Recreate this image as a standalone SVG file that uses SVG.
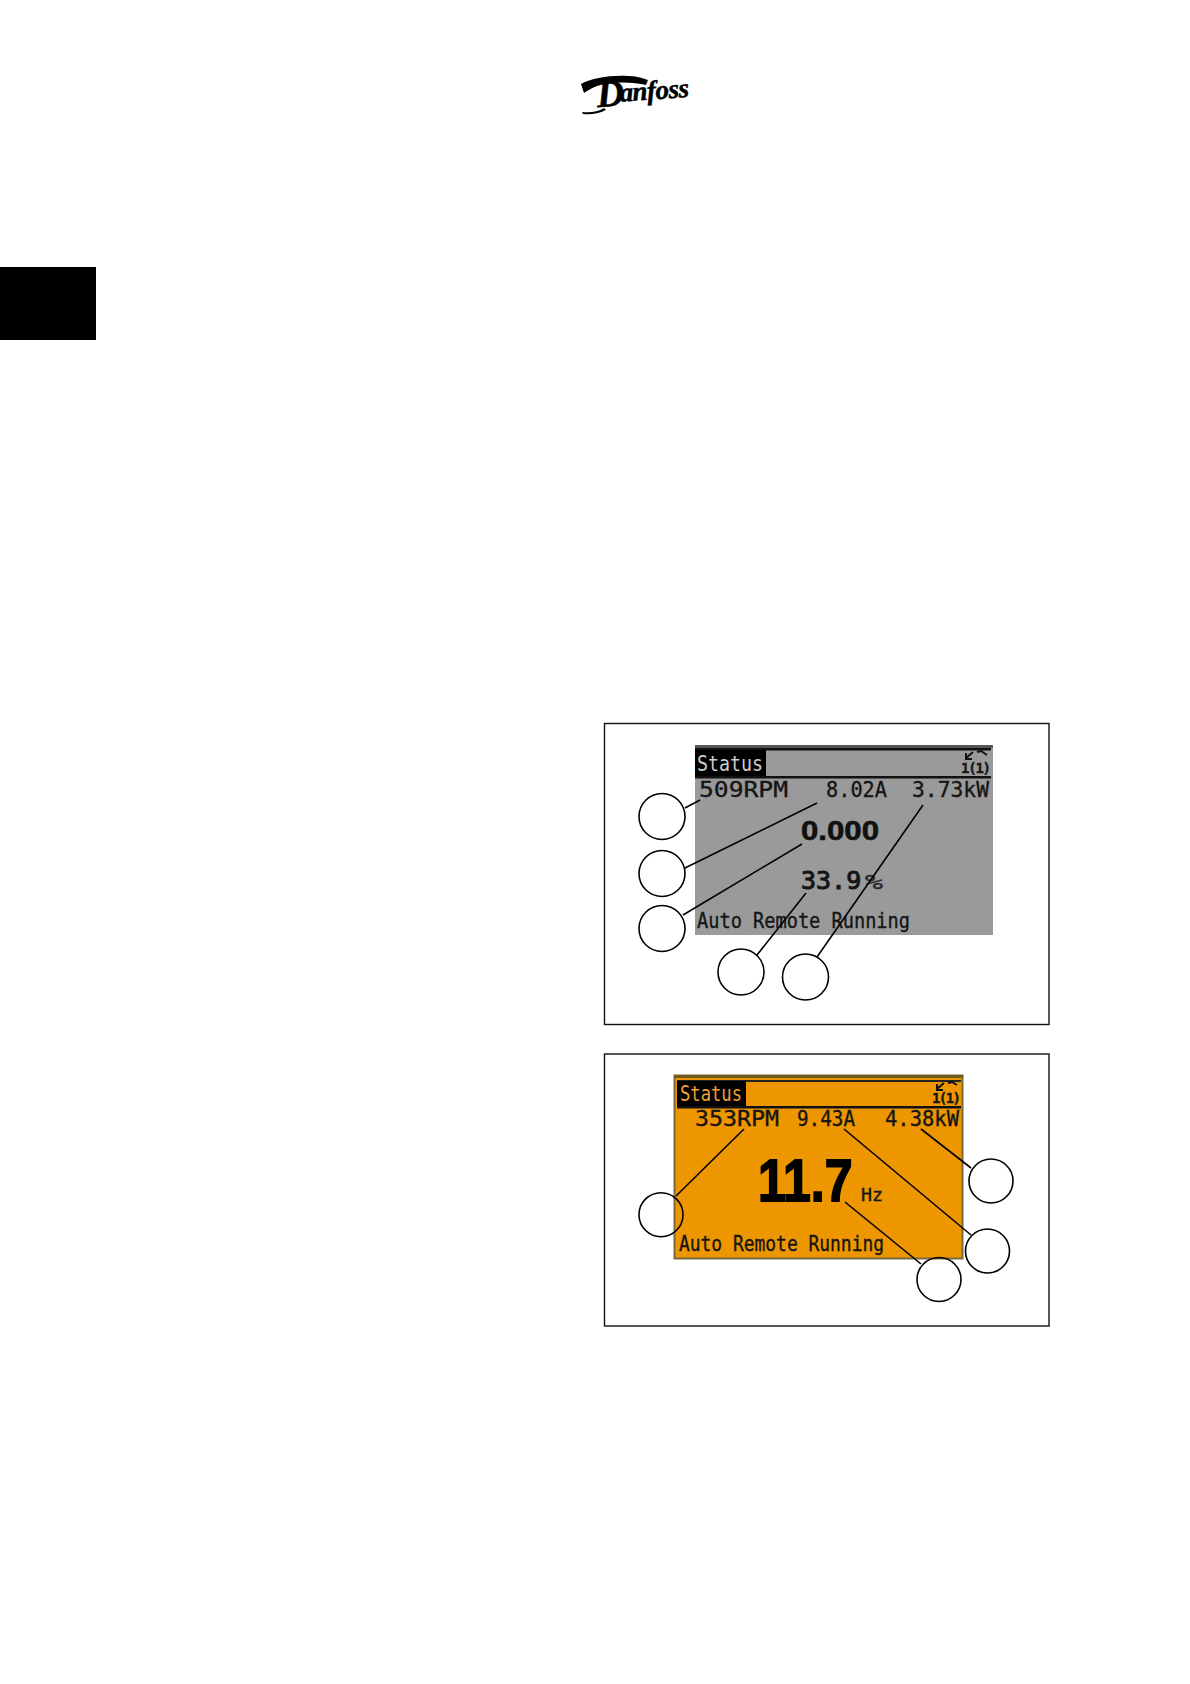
<svg xmlns="http://www.w3.org/2000/svg" width="1190" height="1684" viewBox="0 0 1190 1684">
<style>
.frame{fill:#fff;stroke:#111;stroke-width:1.4}
.callout{fill:none;stroke:#000;stroke-width:1.6}
.c{fill:none;stroke:#000;stroke-width:1.6}
.lcd{font-family:"DejaVu Sans Mono",monospace;fill:#151515;font-size:21px;stroke:#151515;stroke-width:.35}
.big{font-family:"Liberation Sans",sans-serif;font-weight:bold;fill:#111}
</style>
<rect width="1190" height="1684" fill="#fff"/>
<rect id="tab" x="0" y="267" width="96" height="73" fill="#000"/>
<g id="logo">
<path d="M581 84C592 78 610 75 628 76C636 76 642 78 648 80L646 85C634 82 612 81 597 86C592 88 588 90 584 93Z" fill="#000"/>
<path d="M582 112C590 113 598 112 604 108L606 110C598 114 590 115 583 114Z" fill="#000"/>
<text transform="rotate(-4 616 100)" y="102" font-family="'Liberation Serif',serif" font-style="italic" font-weight="bold" font-size="27" fill="#000" stroke="#000" stroke-width=".5"><tspan x="597" y="106" font-size="38">D</tspan><tspan x="620" y="102" letter-spacing="-.5">anfoss</tspan></text>
</g>
<g id="panel-grey">
<rect class="frame" x="604.5" y="723.5" width="444.5" height="301"/>
<rect x="695" y="745" width="298" height="190" fill="#9a9a9a"/>
<rect x="695" y="745" width="298" height="3" fill="#555"/>
<rect x="695" y="748" width="296" height="2.5" fill="#111"/>
<rect x="695" y="750" width="71" height="27" fill="#000"/>
<rect x="695" y="776" width="296" height="2.5" fill="#111"/>
<text x="697" y="771" class="lcd" style="fill:#ccc;stroke:none" textLength="66" lengthAdjust="spacingAndGlyphs">Status</text>
<path d="M966 758L973 752M966 753V759H972M977 752L981 751L987 755" fill="none" stroke="#111" stroke-width="2"/>
<text x="961" y="773" class="lcd" style="font-size:14px;font-weight:bold" textLength="30" lengthAdjust="spacing">1(1)</text>
<text x="699" y="797" class="lcd" textLength="89" lengthAdjust="spacingAndGlyphs">509RPM</text>
<text x="826" y="797" class="lcd" textLength="61" lengthAdjust="spacingAndGlyphs">8.02A</text>
<text x="912" y="797" class="lcd" textLength="77" lengthAdjust="spacingAndGlyphs">3.73kW</text>
<text x="801" y="840" class="big" font-size="28" stroke="#111" stroke-width=".6" textLength="78" lengthAdjust="spacingAndGlyphs">0.000</text>
<text x="801" y="889" class="lcd" style="font-size:25px;stroke-width:1">33.9</text>
<text x="865" y="889" class="lcd" style="font-size:19px;fill:#333" textLength="18" lengthAdjust="spacingAndGlyphs">%</text>
<text x="697" y="928" class="lcd" textLength="213" lengthAdjust="spacingAndGlyphs">Auto Remote Running</text>
</g>
<g id="panel-orange">
<rect class="frame" x="604.5" y="1054" width="444.5" height="272"/>
<rect x="674.5" y="1075.5" width="288" height="183" fill="#ee9600" stroke="#7a6a3a" stroke-width="2"/>
<rect x="674" y="1075" width="289" height="3" fill="#6f5a20"/>
<rect x="677" y="1080" width="284" height="2" fill="#222"/>
<rect x="677" y="1081" width="69" height="26" fill="#000"/>
<rect x="677" y="1106" width="284" height="2.5" fill="#111"/>
<text x="680" y="1101" class="lcd" style="fill:#f0a030;stroke:none" textLength="62" lengthAdjust="spacingAndGlyphs">Status</text>
<path d="M937 1089L944 1083M937 1084V1090H943M948 1083L952 1082L957 1085" fill="none" stroke="#111" stroke-width="2"/>
<text x="932" y="1103" class="lcd" style="font-size:14px;font-weight:bold" textLength="29" lengthAdjust="spacing">1(1)</text>
<text x="695" y="1126" class="lcd" textLength="84" lengthAdjust="spacingAndGlyphs">353RPM</text>
<text x="797" y="1126" class="lcd" textLength="58" lengthAdjust="spacingAndGlyphs">9.43A</text>
<text x="885" y="1126" class="lcd" textLength="74" lengthAdjust="spacingAndGlyphs">4.38kW</text>
<text transform="translate(758 1201) scale(1 1.2)" class="big" font-size="50" stroke="#000" stroke-width="1.5" style="fill:#000">11.7</text>
<text x="861" y="1201" class="lcd" style="font-size:18px" textLength="22" lengthAdjust="spacingAndGlyphs">Hz</text>
<text x="679" y="1251" class="lcd" textLength="205" lengthAdjust="spacingAndGlyphs">Auto Remote Running</text>
</g>
<g id="connectors">
<path class="callout" d="M685 808L700 800"/>
<path class="callout" d="M685 868L817 803"/>
<path class="callout" d="M683 915L802 844"/>
<path class="callout" d="M757 955L806 893"/>
<path class="callout" d="M817 957L923 805"/>
<path class="callout" d="M676 1196L744 1129"/>
<path class="callout" d="M844 1129L971 1235"/>
<path class="callout" d="M921 1129L971 1168"/>
<path class="callout" d="M845 1202L921 1264"/>
</g>
<g id="n1"><circle class="c" cx="662" cy="816.5" r="23"/></g>
<g id="n2"><circle class="c" cx="662" cy="873.5" r="23"/></g>
<g id="n3"><circle class="c" cx="662" cy="928.5" r="23"/></g>
<g id="n4"><circle class="c" cx="741" cy="972" r="23"/></g>
<g id="n5"><circle class="c" cx="805.5" cy="977" r="23"/></g>
<g id="n6"><circle class="c" cx="661" cy="1214.7" r="22"/></g>
<g id="n7"><circle class="c" cx="991" cy="1181" r="22"/></g>
<g id="n8"><circle class="c" cx="987.5" cy="1251" r="22"/></g>
<g id="n9"><circle class="c" cx="939" cy="1279.5" r="22"/></g>
</svg>
